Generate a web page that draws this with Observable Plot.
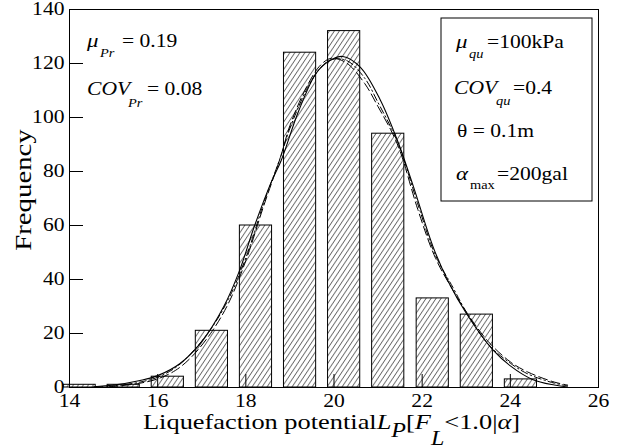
<!DOCTYPE html>
<html>
<head>
<meta charset="utf-8">
<script src="https://cdn.jsdelivr.net/npm/d3@7"></script>
<script src="https://cdn.jsdelivr.net/npm/@observablehq/plot@0.6"></script>
<style>
  html, body { margin: 0; padding: 0; background: white; }
  #chart { width: 630px; height: 448px; }
  #chart svg, #chart svg text { font-family: "Liberation Serif", "Times New Roman", Times, "DejaVu Serif", serif; }
</style>
</head>
<body>
<div id="chart"></div>
<script>
// ---- data ----
const xTicks = [14, 16, 18, 20, 22, 24, 26];
const yTicks = [0, 20, 40, 60, 80, 100, 120, 140];

const binCenters = [14.23, 15.23, 16.23, 17.23, 18.23, 19.23, 20.23, 21.23, 22.24, 23.24, 24.24];
const counts     = [1, 1, 4, 21, 60, 124, 132, 94, 33, 27, 3];

// solid fitted curve
const solidX = [14.55, 15.0, 15.6, 16.0, 16.5, 17.0, 17.5, 17.85, 18.2, 18.6, 18.8, 19.2, 19.6, 19.9, 20.2, 20.6, 21.05, 21.45, 21.8, 22.25, 22.6, 23.0, 23.6, 24.0, 24.5, 25.0, 25.3];
const solidY = [0.3, 0.9, 2.6, 4.4, 8.8, 17, 30, 43, 60, 77, 84, 102.5, 116.5, 121, 122.6, 118.6, 106.5, 91, 74.5, 52, 39, 27.5, 14, 8, 3, 0.9, 0.2];

// long-dash fitted curve
const dashX = [14.6, 15.0, 15.6, 16.0, 16.4, 16.75, 17.2, 17.6, 18.0, 18.4, 18.8, 19.0, 19.4, 19.7, 19.95, 20.3, 20.7, 21.0, 21.3, 21.5, 21.9, 22.3, 22.7, 23.0, 23.5, 24.0, 24.4, 25.0, 25.3];
const dashY = [0.1, 0.4, 1.6, 3.2, 6.3, 11, 20, 31, 47, 67, 86, 97, 112, 119.5, 122, 120, 112.5, 104, 95, 87.5, 66, 48, 36, 28, 17, 9.5, 5.7, 2, 0.9];

// dash-dot fitted curve
const dotX = [14.6, 15.0, 15.6, 16.0, 16.4, 16.75, 17.2, 17.6, 18.0, 18.4, 18.8, 19.0, 19.4, 19.7, 19.95, 20.3, 20.7, 21.0, 21.3, 21.5, 21.9, 22.3, 22.7, 23.0, 23.5, 24.0, 24.4, 25.0, 25.3];
const dotY = [0.2, 0.6, 2.0, 3.8, 7.3, 12.5, 21.5, 32.5, 48, 68, 86, 96, 111, 118.5, 121.5, 121, 114.5, 105.5, 96, 88.5, 68, 49, 37, 28, 16, 9, 5, 1.6, 0.6];

// ---- build tables ----
const HALF = 0.365; // half bar width (style)
const bars = binCenters.map((c, i) => ({lo: c - HALF, hi: c + HALF, n: counts[i]}));
const solid = solidX.map((x, i) => ({x, y: solidY[i]}));
const dash = dashX.map((x, i) => ({x, y: dashY[i]}));
const dashdot = dotX.map((x, i) => ({x, y: dotY[i]}));

const W = 630, H = 448, ML = 69, MR = 32, MT = 9, MB = 61;
const innerW = W - ML - MR, innerH = H - MT - MB;
const SX = 1.2; // horizontal text stretch seen in the reference
const FONT = "Liberation Serif, Times New Roman, Times, DejaVu Serif, serif";

const svg = Plot.plot({
  width: W, height: H,
  marginLeft: ML, marginRight: MR, marginTop: MT, marginBottom: MB,
  x: {domain: [14, 26]},
  y: {domain: [0, 140]},
  style: {fontFamily: FONT, fontSize: "18px", background: "white", color: "black"},
  marks: [
    Plot.rect(bars, {x1: "lo", x2: "hi", y1: () => 0, y2: "n", fill: "url(#hatch)", stroke: "black", strokeWidth: 1}),
    Plot.line(dash, {x: "x", y: "y", curve: "catmull-rom", stroke: "black", strokeWidth: 1, strokeDasharray: "9,4"}),
    Plot.line(dashdot, {x: "x", y: "y", curve: "catmull-rom", stroke: "black", strokeWidth: 1, strokeDasharray: "7,3,1.5,3"}),
    Plot.line(solid, {x: "x", y: "y", curve: "catmull-rom", stroke: "black", strokeWidth: 1.1}),
    Plot.tickX(xTicks, {x: d => d, insetTop: innerH - 13, stroke: "black"}),
    Plot.tickY(yTicks, {y: d => d, insetRight: innerW - 14, stroke: "black"}),
    Plot.frame({stroke: "black"}),
    Plot.axisX(xTicks, {tickSize: 0, tickPadding: 7, fontSize: 18, label: null}),
    Plot.axisY(yTicks, {tickSize: 0, tickPadding: 5, fontSize: 18, label: null})
  ]
});

// stretch the tick labels horizontally like the reference
svg.querySelectorAll("text").forEach(t => {
  const tr = t.getAttribute("transform") || "";
  t.setAttribute("transform", tr + ` scale(${SX},1)`);
});

const s = d3.select(svg);
// hatch pattern
const defs = s.insert("defs", ":first-child");
defs.append("pattern")
  .attr("id", "hatch").attr("patternUnits", "userSpaceOnUse")
  .attr("width", 5).attr("height", 7.5)
  .append("path")
  .attr("d", "M0,7.5L5,0M-1,1.5L1,-1.5M4,9L6,6")
  .attr("stroke", "#333").attr("stroke-width", 0.8).attr("fill", "none");

const g = s.append("g").attr("font-family", FONT).attr("fill", "black").attr("text-anchor", "start");
function addText(x, y, str, {size = 18, italic = false, anchor = "start", rotate = 0} = {}) {
  return g.append("text")
    .attr("transform", `translate(${x},${y})${rotate ? ` rotate(${rotate})` : ""} scale(${SX},1)`)
    .attr("font-size", size)
    .attr("font-style", italic ? "italic" : null)
    .attr("text-anchor", anchor)
    .text(str);
}

// left annotations
addText(87, 47, "μ", {size: 19, italic: true});
addText(100, 57, "Pr", {size: 12, italic: true});
addText(122, 47, "= 0.19");
addText(87, 95, "COV", {italic: true});
addText(128, 107, "Pr", {size: 12, italic: true});
addText(147, 95, "= 0.08");

// right boxed annotations
g.append("rect").attr("x", 441).attr("y", 18).attr("width", 151).attr("height", 183)
  .attr("fill", "white").attr("stroke", "black").attr("stroke-width", 1);
addText(456, 48, "μ", {size: 19, italic: true});
addText(469, 58, "qu", {size: 12, italic: true});
addText(487, 48, "=100kPa");
addText(454, 94, "COV", {italic: true});
addText(496, 105, "qu", {size: 12, italic: true});
addText(513, 94, "=0.4");
addText(457, 137, "θ = 0.1m");
addText(456, 180, "α", {size: 19, italic: true});
addText(470, 189, "max", {size: 12});
addText(497, 180, "=200gal");

// y axis title
addText(31, 190, "Frequency", {size: 24, anchor: "middle", rotate: -90});

// x axis title with subscripts
const xt = g.append("text")
  .attr("transform", `translate(143,429) scale(${SX},1)`)
  .attr("text-anchor", "start")
  .attr("font-size", 22);
xt.append("tspan").text("Liquefaction potential");
xt.append("tspan").attr("font-style", "italic").text("L");
xt.append("tspan").attr("font-style", "italic").attr("font-size", 20).attr("dy", 8).text("P");
xt.append("tspan").attr("dy", -8).text("[");
xt.append("tspan").attr("font-style", "italic").text("F");
xt.append("tspan").attr("font-style", "italic").attr("font-size", 20).attr("dy", 16).text("L");
xt.append("tspan").attr("dy", -16).text("<1.0|");
xt.append("tspan").attr("font-style", "italic").text("α");
xt.append("tspan").text("]");

document.getElementById("chart").appendChild(svg);
</script>
</body>
</html>
